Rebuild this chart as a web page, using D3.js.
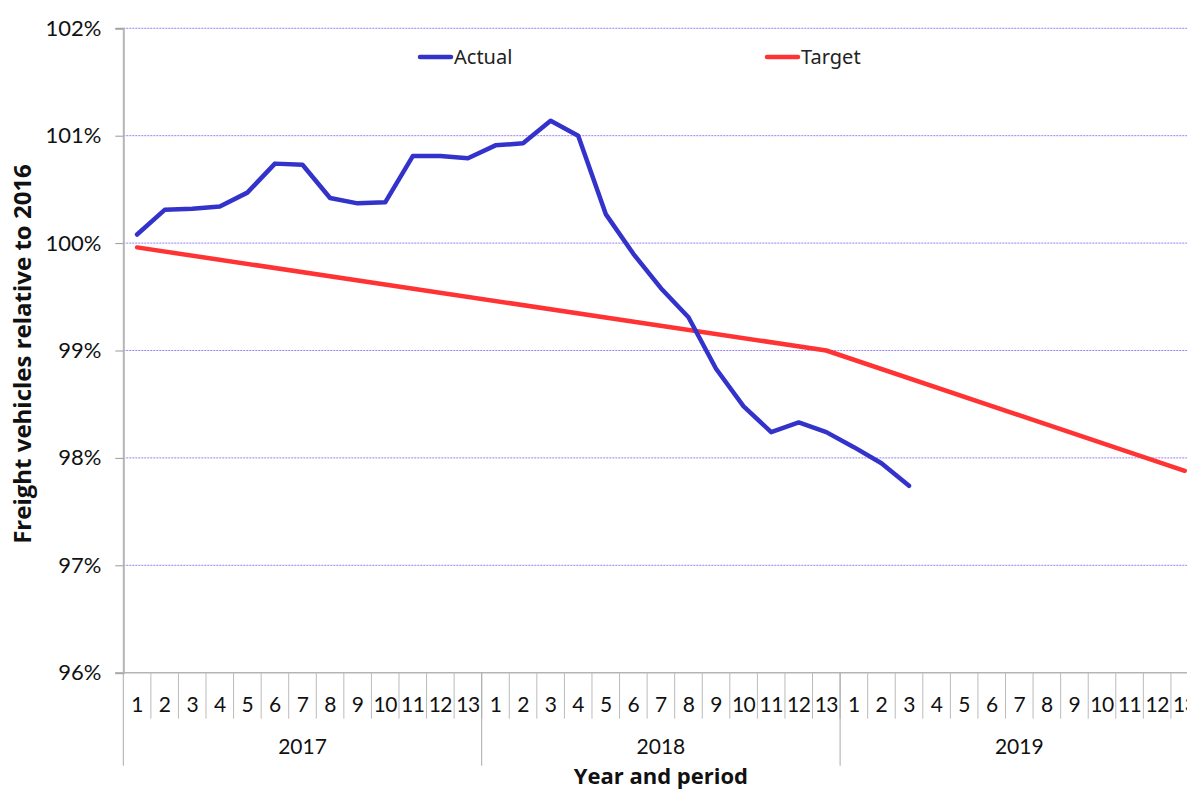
<!DOCTYPE html>
<html>
<head>
<meta charset="utf-8">
<script src="https://cdn.jsdelivr.net/npm/d3@7"></script>
<style>
  html, body { margin: 0; padding: 0; background: #fff; }
  svg { display: block; }
  .tick-label { font-family: Lato, "Open Sans", sans-serif; fill: #111; }
  .legend-text { font-family: "Noto Sans", "Open Sans", sans-serif; font-size: 20px; fill: #222; }
  .axis-title { font-family: "Open Sans", Lato, sans-serif; font-weight: bold; fill: #111; }
</style>
</head>
<body>
<svg id="chart" width="1187" height="790"></svg>
<script>
// Freight vehicles relative to 2016, by financial period
const years = ["2017", "2018", "2019"];
const periods = ["1","2","3","4","5","6","7","8","9","10","11","12","13"];
const yTicks = [96, 97, 98, 99, 100, 101, 102];

// Actual series: 2017 P1 through 2019 P3
const actualValues = [
  100.08, 100.31, 100.32, 100.34, 100.47, 100.74, 100.73, 100.42, 100.37, 100.38, 100.81, 100.81, 100.79,
  100.91, 100.93, 101.14, 101.00, 100.27, 99.90, 99.58, 99.31, 98.83, 98.48, 98.24, 98.33, 98.24,
  98.10, 97.95, 97.74
];

// Target trajectory: straight segments between these periods
const targetPeriods = ["2017-1", "2018-13", "2019-13"];
const targetValues = [99.96, 99.00, 97.88];

const seriesNames = ["Actual", "Target"];
const seriesColors = ["#3333cc", "#ff3333"];

const categories = [];
years.forEach(yr => periods.forEach(p => categories.push(yr + "-" + p)));

const svg = d3.select("#chart");

const plotLeft = 123.3, plotRight = 1198.5, plotTop = 28.3, plotBottom = 672.7;

const x = d3.scaleBand().domain(categories).range([plotLeft, plotRight]).padding(0);
const y = d3.scaleLinear().domain([96, 102]).range([plotBottom, plotTop]);
const cx = k => x(k) + x.bandwidth() / 2;

// Horizontal gridlines
svg.append("g")
  .selectAll("line")
  .data(yTicks.filter(v => v > 96))
  .join("line")
  .attr("x1", plotLeft).attr("x2", plotRight)
  .attr("y1", d => y(d)).attr("y2", d => y(d))
  .attr("stroke", "#9c7ff0")
  .attr("stroke-width", 1)
  .attr("stroke-dasharray", "2,1");

// Y axis
const yAxis = svg.append("g")
  .attr("transform", `translate(${plotLeft},0)`)
  .call(d3.axisLeft(y).tickValues(yTicks).tickFormat(d => d + "%").tickSize(8).tickPadding(14));
yAxis.select(".domain").attr("stroke", "#b5b5b5").attr("stroke-width", 2);
yAxis.selectAll(".tick line").attr("stroke", "#999");
yAxis.selectAll(".tick text").attr("class", "tick-label").style("font-size", "22px");

// X axis baseline
svg.append("line")
  .attr("x1", plotLeft - 8).attr("x2", plotRight)
  .attr("y1", plotBottom).attr("y2", plotBottom)
  .attr("stroke", "#b5b5b5").attr("stroke-width", 1.5);

// Period separators
svg.append("g")
  .selectAll("line")
  .data(categories.slice(1))
  .join("line")
  .attr("x1", d => x(d)).attr("x2", d => x(d))
  .attr("y1", plotBottom).attr("y2", plotBottom + 46)
  .attr("stroke", "#bbb").attr("stroke-width", 1);

// Year separators
const yearEdges = years.map(yr => x(yr + "-1")).concat([plotRight]);
svg.append("g")
  .selectAll("line")
  .data(yearEdges)
  .join("line")
  .attr("x1", d => d).attr("x2", d => d)
  .attr("y1", plotBottom).attr("y2", plotBottom + 93)
  .attr("stroke", "#aaa").attr("stroke-width", 1);

// Period labels
svg.append("g")
  .selectAll("text")
  .data(categories)
  .join("text")
  .attr("class", "tick-label")
  .attr("x", d => cx(d))
  .attr("y", plotBottom + 39)
  .attr("text-anchor", "middle")
  .style("font-size", "21px")
  .style("letter-spacing", "-0.5px")
  .text(d => d.split("-")[1]);

// Year labels
svg.append("g")
  .selectAll("text")
  .data(years)
  .join("text")
  .attr("class", "tick-label")
  .attr("x", d => (x(d + "-1") + x(d + "-13") + x.bandwidth()) / 2)
  .attr("y", plotBottom + 81.5)
  .attr("text-anchor", "middle")
  .style("font-size", "21px")
  .text(d => d);

// Axis titles
svg.append("text")
  .attr("class", "axis-title")
  .attr("x", (plotLeft + plotRight) / 2)
  .attr("y", 783.5)
  .attr("text-anchor", "middle")
  .style("font-size", "22px")
  .text("Year and period");

svg.append("text")
  .attr("class", "axis-title")
  .attr("transform", `translate(31,${354}) rotate(-90)`)
  .attr("text-anchor", "middle")
  .style("font-size", "24px")
  .text("Freight vehicles relative to 2016");

// Lines
const line = d3.line().x(d => cx(d.k)).y(d => y(d.v));

const actualData = actualValues.map((v, i) => ({ k: categories[i], v }));
const targetData = targetValues.map((v, i) => ({ k: targetPeriods[i], v }));

svg.append("path")
  .datum(targetData)
  .attr("d", line)
  .attr("fill", "none")
  .attr("stroke", seriesColors[1])
  .attr("stroke-width", 4.5)
  .attr("stroke-linecap", "round")
  .attr("stroke-linejoin", "round");

svg.append("path")
  .datum(actualData)
  .attr("d", line)
  .attr("fill", "none")
  .attr("stroke", seriesColors[0])
  .attr("stroke-width", 4.5)
  .attr("stroke-linecap", "round")
  .attr("stroke-linejoin", "round");

// Legend
const legendX = [420, 767];
const legend = svg.append("g")
  .selectAll("g")
  .data(seriesNames)
  .join("g")
  .attr("transform", (d, i) => `translate(${legendX[i]},57)`);
legend.append("line")
  .attr("x1", 0).attr("x2", 31)
  .attr("y1", 0).attr("y2", 0)
  .attr("stroke", (d, i) => seriesColors[i])
  .attr("stroke-width", 4.5)
  .attr("stroke-linecap", "round");
legend.append("text")
  .attr("class", "legend-text")
  .attr("x", 34)
  .attr("y", 7)
  .text(d => d);
</script>
</body>
</html>
